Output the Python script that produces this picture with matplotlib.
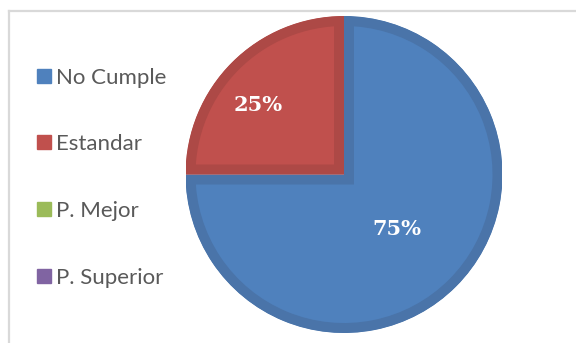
import matplotlib
matplotlib.use("Agg")
import matplotlib.pyplot as plt
import numpy as np
from matplotlib.lines import Line2D

categories = ["No Cumple", "Estandar", "P. Mejor", "P. Superior"]
values = [75, 25, 0, 0]
colors = ["#4F81BD", "#C0504D", "#9BBB59", "#8064A2"]
rim_colors = ["#4A74A9", "#AD4946", "#8CA850", "#735A92"]
label_dist = [0.48, 0.70, 0.6, 0.6]
label_shift_deg = [-0.8, 6.0, 0.0, 0.0]

W, H = 576, 343
fig = plt.figure(figsize=(W / 100, H / 100), dpi=100)

# frame lines (top and left)
fig.add_artist(Line2D([8.5 / W, 1], [1 - 10.5 / H, 1 - 10.5 / H], color="#D9D9D9", lw=1.6))
fig.add_artist(Line2D([8.5 / W, 8.5 / W], [0, 1 - 10.5 / H], color="#D9D9D9", lw=1.6))

cx, cy, r = 344, 174.5, 158.5
ax = fig.add_axes([(cx - r) / W, (H - cy - r) / H, 2 * r / W, 2 * r / H])
wedges, _ = ax.pie(values, colors=colors, startangle=90, counterclock=False,
                   radius=1.0, wedgeprops=dict(linewidth=0))
ax.set_xlim(-1, 1)
ax.set_ylim(-1, 1)
ax.set_aspect("equal")
ax.axis("off")

rim_pt = 2 * 10 * 72 / 100
for w, v, rc in zip(wedges, values, rim_colors):
    if v == 0:
        w.set_visible(False)
        continue
    w.set_edgecolor(rc)
    w.set_linewidth(rim_pt)
    w.set_clip_on(True)
    w.set_clip_path(w)

total = sum(values)
for w, v, d, s in zip(wedges, values, label_dist, label_shift_deg):
    if v == 0:
        continue
    ang = np.deg2rad((w.theta1 + w.theta2) / 2 + s)
    ax.text(d * np.cos(ang), d * np.sin(ang), f"{v / total * 100:.0f}%",
            ha="center", va="center", color="white", fontsize=15,
            fontweight="bold", family="DejaVu Serif")

handles = [Line2D([], [], marker="s", ls="", markersize=10, markerfacecolor=c,
                  markeredgecolor=c) for c in colors]
fig.legend(handles, categories, loc="center left", bbox_to_anchor=(25 / W, 1 - 177.5 / H),
           frameon=False, labelspacing=2.1, handlelength=0.7, handletextpad=0.2,
           borderpad=0, prop=dict(family="Lato", size=16), labelcolor="#595959")

fig.savefig("out.png", dpi=100)
